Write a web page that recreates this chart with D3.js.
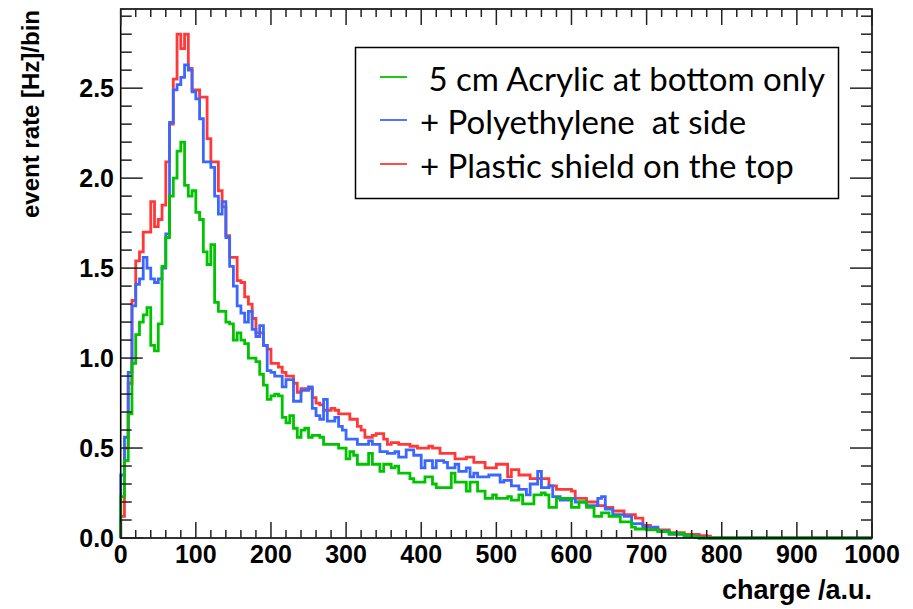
<!DOCTYPE html>
<meta charset="utf-8">
<style>
    body {
        margin: 0;
        background: #fff;
    }

    .tick-label {
        font: bold 25px "Liberation Sans", Arial, Helvetica, sans-serif;
        fill: #000;
    }

    .axis-title {
        font: bold 24px "Liberation Sans", Arial, Helvetica, sans-serif;
        fill: #000;
    }

    .legend-text {
        font: 33px Lato, "Open Sans", sans-serif;
        fill: #000;
        white-space: pre;
    }
</style>

<body>
    <svg width="913" height="609"></svg>
</body>

<script src="https://d3js.org/d3.v7.min.js"></script>
<script>

    // histogram: 200 bins of width 5 from 0 to 1000 (charge / a.u.), event rate [Hz]/bin
    var binLow = 0,
        binWidth = 5;

    var acrylicOnly = [
        0.23, 0.43, 0.69, 0.97, 1.13, 1.20, 1.24, 1.28, 1.07, 1.04,
        1.19, 1.51, 1.67, 1.90, 2.00, 2.15, 2.20, 1.96, 1.90, 1.93,
        1.81, 1.77, 1.59, 1.52, 1.63, 1.31, 1.26, 1.26, 1.20, 1.19,
        1.10, 1.14, 1.10, 1.08, 1.00, 1.00, 0.98, 0.91, 0.85, 0.77,
        0.79, 0.80, 0.79, 0.67, 0.64, 0.68, 0.61, 0.56, 0.60, 0.61,
        0.56, 0.57, 0.57, 0.56, 0.52, 0.52, 0.52, 0.52, 0.50, 0.50,
        0.44, 0.48, 0.46, 0.41, 0.41, 0.41, 0.47, 0.41, 0.41, 0.37,
        0.41, 0.41, 0.39, 0.40, 0.36, 0.36, 0.36, 0.33, 0.31, 0.31,
        0.31, 0.34, 0.34, 0.30, 0.28, 0.28, 0.28, 0.28, 0.36, 0.31,
        0.31, 0.31, 0.26, 0.31, 0.31, 0.26, 0.26, 0.22, 0.22, 0.24,
        0.22, 0.22, 0.22, 0.23, 0.21, 0.21, 0.24, 0.19, 0.19, 0.19,
        0.24, 0.24, 0.25, 0.24, 0.17, 0.17, 0.22, 0.22, 0.22, 0.22,
        0.17, 0.17, 0.20, 0.20, 0.17, 0.17, 0.12, 0.12, 0.14, 0.14,
        0.12, 0.12, 0.12, 0.09, 0.09, 0.09, 0.06, 0.05, 0.05, 0.05,
        0.045, 0.045, 0.045, 0.035, 0.035, 0.035, 0.025, 0.025, 0.025, 0.025,
        0.015, 0.015, 0.01, 0.005, 0, 0, 0, 0, 0, 0,
        0, 0, 0, 0, 0, 0, 0, 0, 0, 0,
        0, 0, 0, 0, 0, 0, 0, 0, 0, 0,
        0, 0, 0, 0, 0, 0, 0, 0, 0, 0,
        0, 0, 0, 0, 0, 0, 0, 0, 0, 0
    ];

    var polyethyleneSide = [
        0.35, 0.56, 0.92, 1.29, 1.41, 1.44, 1.56, 1.50, 1.44, 1.42,
        1.44, 1.50, 1.69, 2.31, 2.49, 2.52, 2.56, 2.63, 2.60, 2.48,
        2.44, 2.33, 2.09, 2.09, 2.06, 1.90, 1.80, 1.87, 1.67, 1.51,
        1.40, 1.29, 1.25, 1.20, 1.26, 1.16, 1.12, 1.18, 1.07, 0.93,
        0.92, 0.90, 0.90, 0.84, 0.88, 0.88, 0.76, 0.76, 0.82, 0.82,
        0.84, 0.72, 0.68, 0.66, 0.77, 0.65, 0.65, 0.67, 0.62, 0.60,
        0.55, 0.55, 0.55, 0.52, 0.52, 0.52, 0.54, 0.52, 0.52, 0.48,
        0.48, 0.47, 0.47, 0.48, 0.45, 0.45, 0.49, 0.49, 0.46, 0.46,
        0.39, 0.43, 0.43, 0.39, 0.43, 0.43, 0.42, 0.39, 0.39, 0.41,
        0.37, 0.37, 0.39, 0.34, 0.36, 0.34, 0.34, 0.34, 0.35, 0.35,
        0.35, 0.31, 0.32, 0.32, 0.29, 0.29, 0.27, 0.27, 0.24, 0.30,
        0.30, 0.37, 0.28, 0.28, 0.29, 0.23, 0.23, 0.21, 0.21, 0.21,
        0.22, 0.20, 0.20, 0.20, 0.18, 0.18, 0.18, 0.22, 0.23, 0.16,
        0.16, 0.13, 0.13, 0.13, 0.12, 0.12, 0.08, 0.08, 0.08, 0.06,
        0.06, 0.06, 0.06, 0.04, 0.04, 0.04, 0.02, 0.02, 0.02, 0.02,
        0.01, 0.01, 0.01, 0.01, 0, 0, 0, 0, 0, 0,
        0, 0, 0, 0, 0, 0, 0, 0, 0, 0,
        0, 0, 0, 0, 0, 0, 0, 0, 0, 0,
        0, 0, 0, 0, 0, 0, 0, 0, 0, 0,
        0, 0, 0, 0, 0, 0, 0, 0, 0, 0
    ];

    var plasticTop = [
        0.12, 0.50, 0.86, 1.32, 1.54, 1.59, 1.70, 1.70, 1.87, 1.73,
        1.77, 1.85, 2.09, 2.30, 2.55, 2.80, 2.72, 2.80, 2.61, 2.49,
        2.49, 2.45, 2.45, 2.22, 2.09, 2.09, 1.93, 1.84, 1.68, 1.56,
        1.56, 1.43, 1.42, 1.34, 1.30, 1.22, 1.14, 1.14, 1.07, 1.05,
        0.97, 0.97, 0.95, 0.92, 0.90, 0.90, 0.86, 0.81, 0.83, 0.83,
        0.83, 0.78, 0.75, 0.74, 0.71, 0.71, 0.72, 0.71, 0.69, 0.69,
        0.69, 0.66, 0.66, 0.62, 0.60, 0.56, 0.56, 0.57, 0.58, 0.58,
        0.55, 0.52, 0.53, 0.53, 0.52, 0.52, 0.52, 0.51, 0.51, 0.50,
        0.50, 0.50, 0.51, 0.50, 0.50, 0.47, 0.47, 0.47, 0.47, 0.44,
        0.44, 0.44, 0.45, 0.45, 0.42, 0.42, 0.42, 0.39, 0.39, 0.39,
        0.41, 0.41, 0.41, 0.34, 0.38, 0.38, 0.35, 0.35, 0.35, 0.33,
        0.33, 0.33, 0.33, 0.33, 0.29, 0.29, 0.27, 0.27, 0.27, 0.27,
        0.26, 0.22, 0.22, 0.22, 0.20, 0.20, 0.20, 0.18, 0.18, 0.17,
        0.17, 0.15, 0.15, 0.15, 0.13, 0.13, 0.13, 0.11, 0.11, 0.07,
        0.07, 0.055, 0.055, 0.045, 0.045, 0.045, 0.03, 0.03, 0.03, 0.03,
        0.02, 0.02, 0.02, 0.02, 0.013, 0.013, 0.01, 0, 0, 0,
        0, 0, 0, 0, 0, 0, 0, 0, 0, 0,
        0, 0, 0, 0, 0, 0, 0, 0, 0, 0,
        0, 0, 0, 0, 0, 0, 0, 0, 0, 0,
        0, 0, 0, 0, 0, 0, 0, 0, 0, 0
    ];

    var legendLabels = [" 5 cm Acrylic at bottom only", "+ Polyethylene  at side", "+ Plastic shield on the top"];
    var xTickLabels = [0, 100, 200, 300, 400, 500, 600, 700, 800, 900, 1000];
    var yTickLabels = ["0.0", "0.5", "1.0", "1.5", "2.0", "2.5"];

    // red drawn first, green last (on top)
    var series = [
        { name: "plastic", values: plasticTop, color: "#ff3838" },
        { name: "poly", values: polyethyleneSide, color: "#3a68ff" },
        { name: "acrylic", values: acrylicOnly, color: "#00c400" }
    ];

    var svg = d3.select("svg");

    var x = d3.scaleLinear().domain([0, 1000]).range([120.7, 872]);
    var y = d3.scaleLinear().domain([0, 2.94]).range([538, 9]);

    // histogram outlines
    var line = d3.line()
        .x(function (d) { return x(d[0]); })
        .y(function (d) { return y(d[1]); })
        .curve(d3.curveStepAfter);

    series.forEach(function (s) {
        var pts = [[binLow, 0]];
        s.values.forEach(function (v, i) {
            pts.push([binLow + i * binWidth, v]);
        });
        pts.push([binLow + s.values.length * binWidth, s.values[s.values.length - 1]]);
        svg.append("path")
            .attr("d", line(pts))
            .attr("fill", "none")
            .attr("stroke", s.color)
            .attr("stroke-width", 2.8);
    });

    // frame
    svg.append("rect")
        .attr("x", x(0))
        .attr("y", y(2.94))
        .attr("width", x(1000) - x(0))
        .attr("height", y(0) - y(2.94))
        .attr("fill", "none")
        .attr("stroke", "#000")
        .attr("stroke-width", 1.6);

    var ticks = svg.append("g").attr("stroke", "#222").attr("stroke-width", 1.5);

    // x ticks, bottom and top, pointing inward
    d3.range(0, 1001, 20).forEach(function (v) {
        var len = v % 100 === 0 ? 16 : 8;
        ticks.append("line").attr("x1", x(v)).attr("x2", x(v)).attr("y1", y(0)).attr("y2", y(0) - len);
        ticks.append("line").attr("x1", x(v)).attr("x2", x(v)).attr("y1", y(2.94)).attr("y2", y(2.94) + len);
    });

    // y ticks, left and right
    d3.range(0, 30).forEach(function (k) {
        var v = k / 10;
        var len = k % 5 === 0 ? 22 : 11;
        ticks.append("line").attr("x1", x(0)).attr("x2", x(0) + len).attr("y1", y(v)).attr("y2", y(v));
        ticks.append("line").attr("x1", x(1000)).attr("x2", x(1000) - len).attr("y1", y(v)).attr("y2", y(v));
    });

    svg.selectAll(".xlab")
        .data(xTickLabels)
        .enter().append("text")
        .attr("class", "tick-label")
        .attr("x", function (d) { return x(d); })
        .attr("y", 563)
        .attr("text-anchor", "middle")
        .text(function (d) { return d; });

    svg.selectAll(".ylab")
        .data(yTickLabels)
        .enter().append("text")
        .attr("class", "tick-label")
        .attr("x", 114)
        .attr("y", function (d) { return y(+d) + 9; })
        .attr("text-anchor", "end")
        .text(function (d) { return d; });

    svg.append("text")
        .attr("class", "axis-title")
        .attr("transform", "translate(39,10) rotate(-90)")
        .attr("text-anchor", "end")
        .text("event rate [Hz]/bin");

    svg.append("text")
        .attr("class", "axis-title")
        .style("font-size", "27px")
        .attr("x", 872)
        .attr("y", 599)
        .attr("text-anchor", "end")
        .text("charge /a.u.");

    // legend
    var legend = svg.append("g");
    legend.append("rect")
        .attr("x", 355.5)
        .attr("y", 47.5)
        .attr("width", 483)
        .attr("height", 151)
        .attr("fill", "#fff")
        .attr("stroke", "#000")
        .attr("stroke-width", 1.5);

    var legendColors = ["#00c400", "#3a68ff", "#ff3838"];
    var rowY = [77, 120, 164];
    legendLabels.forEach(function (lab, i) {
        legend.append("line")
            .attr("x1", 380).attr("x2", 407)
            .attr("y1", rowY[i]).attr("y2", rowY[i])
            .attr("stroke", legendColors[i])
            .attr("stroke-width", 1.8);
        legend.append("text")
            .attr("class", "legend-text")
            .attr("x", 420)
            .attr("y", rowY[i] + 14)
            .text(lab);
    });

</script>
